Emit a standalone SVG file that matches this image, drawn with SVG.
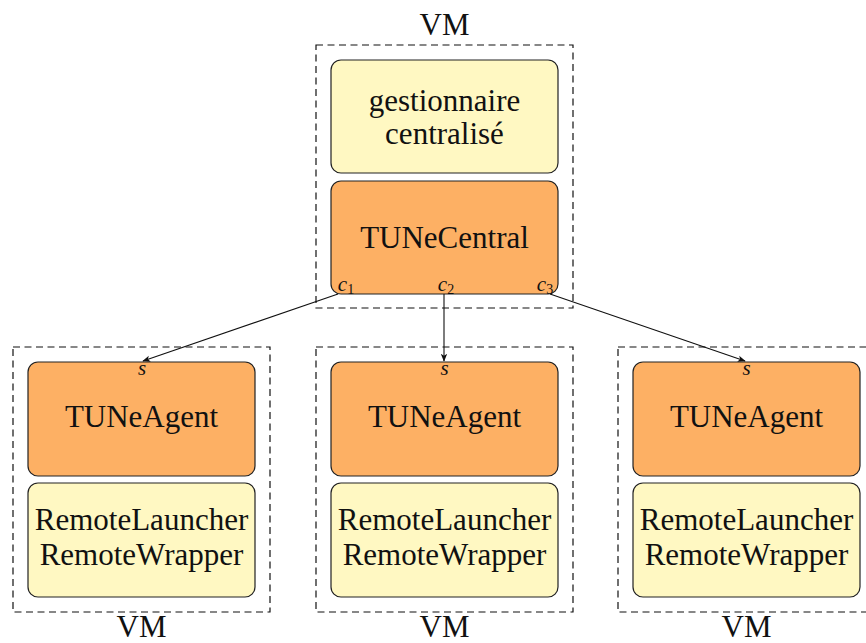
<svg xmlns="http://www.w3.org/2000/svg" width="866" height="643" viewBox="0 0 866 643">
<style>
.vm{fill:none;stroke:#111;stroke-width:1.2;stroke-dasharray:7,4.5}
.or{fill:#FDB064;stroke:#222;stroke-width:1.2}
.ye{fill:#FFF8C2;stroke:#222;stroke-width:1.2}
.t{font-family:'Liberation Serif','Times New Roman','DejaVu Serif',serif;font-size:31px;fill:#111;text-anchor:middle}
.m{font-family:'Liberation Serif','Times New Roman','DejaVu Serif',serif;font-style:italic;font-size:21px;fill:#111;text-anchor:middle}
.sub{font-size:14px;font-style:normal}
.e{stroke:#111;stroke-width:1.1;fill:none}
</style>
<defs>
<marker id="ah" viewBox="0 0 10 10" refX="9" refY="5" markerWidth="8" markerHeight="8" markerUnits="userSpaceOnUse" orient="auto">
<path d="M0,1 L10,5 L0,9 L2.5,5 Z" fill="#111"/>
</marker>
</defs>
<g id="vm-central">
<rect class="vm" x="316" y="45" width="257" height="263"/>
<text class="t" x="444.5" y="35">VM</text>
</g>
<g id="gestionnaire">
<rect class="ye" x="331" y="60" width="227" height="113" rx="10"/>
<text class="t" x="444.5" y="111">gestionnaire</text>
<text class="t" x="444.5" y="144">centralisé</text>
</g>
<g id="tunecentral">
<rect class="or" x="331" y="181" width="227" height="113" rx="10"/>
<text class="t" x="444.5" y="248">TUNeCentral</text>
<text class="m" x="346" y="291">c<tspan class="sub" dy="3">1</tspan></text>
<text class="m" x="446" y="291">c<tspan class="sub" dy="3">2</tspan></text>
<text class="m" x="545" y="291">c<tspan class="sub" dy="3">3</tspan></text>
</g>
<g id="vm1">
<rect class="vm" x="13" y="347" width="257" height="265"/>
<text class="t" x="141.5" y="637">VM</text>
</g>
<g id="agent1">
<rect class="or" x="28" y="362" width="227" height="114" rx="10"/>
<text class="m" x="142" y="375">s</text>
<text class="t" x="141.5" y="427">TUNeAgent</text>
</g>
<g id="remote1">
<rect class="ye" x="28" y="483" width="227" height="114" rx="10"/>
<text class="t" x="141.5" y="530">RemoteLauncher</text>
<text class="t" x="141.5" y="565">RemoteWrapper</text>
</g>
<g id="vm2">
<rect class="vm" x="316" y="347" width="257" height="265"/>
<text class="t" x="444.5" y="637">VM</text>
</g>
<g id="agent2">
<rect class="or" x="331" y="362" width="227" height="114" rx="10"/>
<text class="m" x="444.5" y="375">s</text>
<text class="t" x="444.5" y="427">TUNeAgent</text>
</g>
<g id="remote2">
<rect class="ye" x="331" y="483" width="227" height="114" rx="10"/>
<text class="t" x="444.5" y="530">RemoteLauncher</text>
<text class="t" x="444.5" y="565">RemoteWrapper</text>
</g>
<g id="vm3">
<rect class="vm" x="618" y="347" width="257" height="265"/>
<text class="t" x="746.5" y="637">VM</text>
</g>
<g id="agent3">
<rect class="or" x="633" y="362" width="227" height="114" rx="10"/>
<text class="m" x="746.5" y="375">s</text>
<text class="t" x="746.5" y="427">TUNeAgent</text>
</g>
<g id="remote3">
<rect class="ye" x="633" y="483" width="227" height="114" rx="10"/>
<text class="t" x="746.5" y="530">RemoteLauncher</text>
<text class="t" x="746.5" y="565">RemoteWrapper</text>
</g>
<g id="connectors">
<line class="e" x1="338" y1="294" x2="143" y2="361" marker-end="url(#ah)"/>
<line class="e" x1="444" y1="294" x2="444" y2="361" marker-end="url(#ah)"/>
<line class="e" x1="550" y1="294" x2="745" y2="361" marker-end="url(#ah)"/>
</g>
</svg>
